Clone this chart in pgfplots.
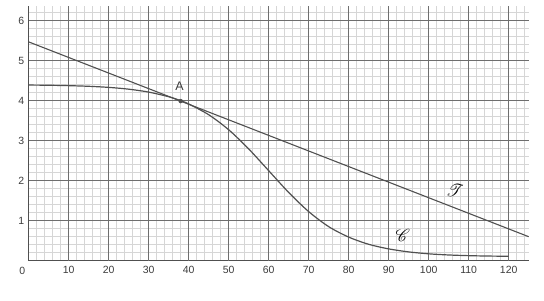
\documentclass[border=0pt]{standalone}
\usepackage{pgfplots}
\pgfplotsset{compat=1.18}
\usepackage{fontspec}
\usepackage{mathrsfs}
\setmainfont{Liberation Sans}
\definecolor{majg}{HTML}{6E6E6E}
\definecolor{ming}{HTML}{D6D6D6}
\definecolor{crv}{HTML}{505050}
\definecolor{lab}{HTML}{3C3C3C}
\begin{document}
\begin{tikzpicture}
\useasboundingbox (-28.7bp,-40.3bp) rectangle (515.3bp,260.7bp);
\begin{axis}[
  at={(0,0)}, anchor=south west,
  scale only axis, width=500bp, height=254.8bp,
  xmin=0, xmax=125, ymin=0, ymax=6.37,
  axis x line*=bottom, axis y line*=left,
  axis line style={draw=crv, line width=1.4pt, -},
  xtick={10,20,...,120}, ytick={1,2,...,6},
  minor xtick={2,4,...,124}, minor ytick={0.2,0.4,...,6.3},
  grid=minor,
  minor grid style={draw=ming, line width=0.8pt},
  extra x ticks={10,20,...,120}, extra y ticks={1,2,...,6},
  extra x tick labels={}, extra y tick labels={},
  extra tick style={grid=major, major grid style={draw=majg, line width=1.0pt}},
  major tick length=0pt, minor tick length=0pt,
  tick label style={font=\fontsize{10.5}{12}\selectfont, text=lab},
  /pgf/number format/assume math mode=true,
  xticklabel style={yshift=-2pt},
  yticklabel style={xshift=-1pt},
  clip=false,
]
\addplot[draw=crv, line width=1.2pt, smooth, tension=0.5] coordinates {
(0,4.391)(5,4.386)(10,4.376)(15,4.360)(20,4.333)(25,4.288)(30,4.215)(35,4.099)(38,4.000)(40,3.918)(45,3.649)(50,3.273)(55,2.794)(60,2.250)(65,1.706)(70,1.227)(75,0.851)(80,0.590)(85,0.410)(90,0.295)(95,0.220)(100,0.172)(105,0.143)(110,0.126)(115,0.116)(120,0.111)
};
\addplot[draw=crv, line width=1.1pt] coordinates {(0,5.47)(125,0.60)};
\addplot[only marks, mark=*, mark size=2pt, color=crv] coordinates {(38,3.99)};
\node[text=lab, font=\fontsize{12.5}{14}\selectfont] at (axis cs:37.7,4.35) {A};
\node[text=black, font=\fontsize{17}{20}\selectfont] at (axis cs:106.6,1.75) {$\mathscr{T}$};
\node[text=black, font=\fontsize{17}{20}\selectfont] at (axis cs:93.5,0.62) {$\mathscr{C}$};
\node[text=lab, font=\fontsize{10.5}{12}\selectfont, anchor=north east] at (axis cs:0,-0.08) {0};
\end{axis}
\end{tikzpicture}
\end{document}
